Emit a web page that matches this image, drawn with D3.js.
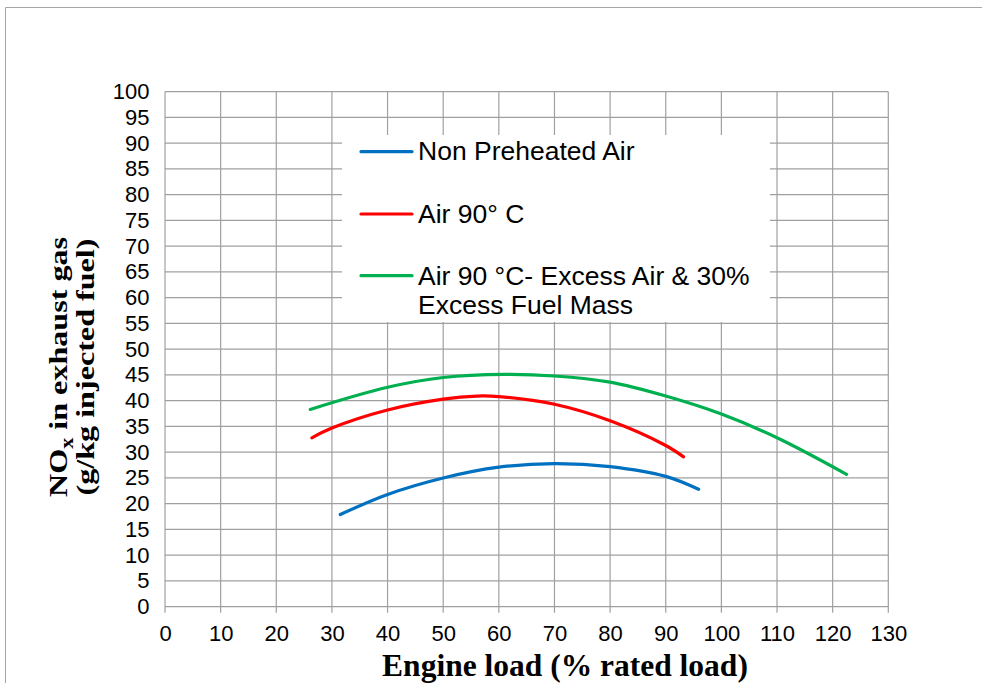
<!DOCTYPE html>
<html><head><meta charset="utf-8">
<script src="https://cdn.jsdelivr.net/npm/d3@7"></script>
<style>body{margin:0;background:#fff}svg{display:block}</style>
</head><body>
<svg id="chart" width="982" height="683"></svg>
<script>
const xTicks = d3.range(0, 131, 10);
const yTicks = d3.range(0, 101, 5);
const seriesNames = ["Non Preheated Air", "Air 90° C", "Air 90 °C- Excess Air & 30%|Excess Fuel Mass"];
const seriesColors = ["#0070C0", "#FF0000", "#00B050"];
const blueX = [31.5, 40, 50, 60, 70, 80, 90, 95.9];
const blueY = [17.9, 21.8, 25.0, 27.1, 27.8, 27.2, 25.3, 22.8];
const redX = [26.4, 30, 40, 50, 56, 60, 70, 80, 90, 93.2];
const redY = [32.8, 34.7, 38.2, 40.3, 40.9, 40.8, 39.3, 36.1, 31.3, 29.1];
const greenX = [26.1, 40, 50, 61, 70, 80, 90, 100, 110, 122.5];
const greenY = [38.3, 42.6, 44.5, 45.1, 44.8, 43.6, 40.9, 37.4, 32.8, 25.7];
const series = [
  {name: seriesNames[0], color: seriesColors[0], xs: blueX, ys: blueY},
  {name: seriesNames[1], color: seriesColors[1], xs: redX, ys: redY},
  {name: seriesNames[2], color: seriesColors[2], xs: greenX, ys: greenY}
];

const svg = d3.select("#chart");
svg.append("path").attr("d", "M5.5,683 L5.5,7.5 L982,7.5").attr("fill", "none").attr("stroke", "#a6a6a6").attr("stroke-width", 1);

const x = d3.scaleLinear().domain([0, 130]).range([165, 888.3]);
const y = d3.scaleLinear().domain([0, 100]).range([606.7, 91.7]);

const g = svg.append("g");
g.selectAll(".hg").data(yTicks).enter().append("line")
  .attr("x1", x(0)).attr("x2", x(130)).attr("y1", d => y(d)).attr("y2", d => y(d))
  .attr("stroke", "#a0a0a0").attr("stroke-width", 1.2);
g.selectAll(".vg").data(xTicks).enter().append("line")
  .attr("x1", d => x(d)).attr("x2", d => x(d)).attr("y1", y(100)).attr("y2", y(0) + 6)
  .attr("stroke", "#a0a0a0").attr("stroke-width", 1.2);

const tickFont = "Liberation Sans, Arial, sans-serif";
const xAxis = d3.axisBottom(x).tickValues(xTicks).tickSize(0).tickPadding(18.5);
const gx = svg.append("g").attr("transform", `translate(0,${y(0)})`).call(xAxis);
gx.select(".domain").remove();
gx.selectAll("text").attr("font-family", tickFont).attr("font-size", 22).attr("fill", "#000");

const yAxis = d3.axisLeft(y).tickValues(yTicks).tickSize(0).tickPadding(15.5);
const gy = svg.append("g").attr("transform", `translate(${x(0)},0)`).call(yAxis);
gy.select(".domain").remove();
gy.selectAll("text").attr("font-family", tickFont).attr("font-size", 22).attr("fill", "#000");

const line = d3.line().x(d => x(d[0])).y(d => y(d[1])).curve(d3.curveCatmullRom.alpha(0.5));
series.forEach(s => {
  const pts = s.xs.map((v, i) => [v, s.ys[i]]);
  svg.append("path").attr("d", line(pts)).attr("fill", "none")
    .attr("stroke", s.color).attr("stroke-width", 3.2).attr("stroke-linecap", "round");
});

// legend
const leg = svg.append("g");
leg.append("rect").attr("x", 342).attr("y", 135).attr("width", 428).attr("height", 187).attr("fill", "#fff");
const legLineY = [151.7, 214, 275.7];
const legTextY = [160, 222.7, 285];
series.forEach((s, i) => {
  leg.append("line").attr("x1", 361).attr("x2", 412).attr("y1", legLineY[i]).attr("y2", legLineY[i])
    .attr("stroke", s.color).attr("stroke-width", 3.2).attr("stroke-linecap", "round");
  s.name.split("|").forEach((p, j) => {
    leg.append("text").attr("x", 418).attr("y", legTextY[i] + j * 29.3).text(p)
      .attr("font-family", tickFont).attr("font-size", 26.5).attr("fill", "#000");
  });
});

const serif = "Liberation Serif, Times New Roman, serif";
svg.append("text").attr("x", 565).attr("y", 676).attr("text-anchor", "middle")
  .attr("font-family", serif).attr("font-weight", "bold").attr("font-size", 31.5)
  .text("Engine load (% rated load)");

const yt = svg.append("text").attr("transform", "translate(67,367) rotate(-90)").attr("text-anchor", "middle")
  .attr("font-family", serif).attr("font-weight", "bold").attr("font-size", 26)
  .attr("textLength", 260).attr("lengthAdjust", "spacingAndGlyphs");
yt.append("tspan").text("NO");
yt.append("tspan").attr("font-size", 18).attr("dy", 6).text("x");
yt.append("tspan").attr("dy", -6).text(" in exhaust gas");
svg.append("text").attr("transform", "translate(94,367) rotate(-90)").attr("text-anchor", "middle")
  .attr("font-family", serif).attr("font-weight", "bold").attr("font-size", 26)
  .attr("textLength", 257).attr("lengthAdjust", "spacingAndGlyphs")
  .text("(g/kg injected fuel)");
</script>
</body></html>
